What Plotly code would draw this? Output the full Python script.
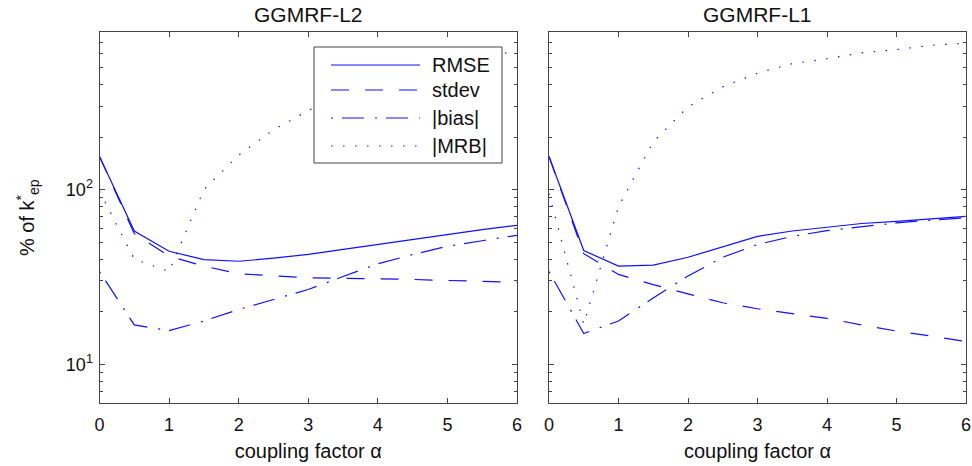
import math
import plotly.graph_objects as go

# coupling factor alpha
alpha = [0, 0.5, 1, 1.5, 2, 2.5, 3, 3.5, 4, 4.5, 5, 5.5, 6]

# GGMRF-L2 (left panel), % of k*_ep
l2_rmse = [155, 58, 44.4, 39.8, 38.9, 40.5, 42.6, 45.5, 48.5, 52, 55.3, 59, 62.5]
l2_stdev = [155, 56, 41.6, 36.5, 33, 32, 31.3, 31.1, 31.0, 30.6, 30.2, 29.8, 29.5]
l2_bias = [34, 16.8, 15.6, 17.7, 20.6, 23.6, 26.8, 31.8, 37.6, 42.5, 47.4, 51, 54.8]
l2_mrb = [98, 40, 34, 100, 158, 220, 284, 355, 420, 480, 530, 580, 620]

# GGMRF-L1 (right panel)
l1_rmse = [155, 44.8, 36.5, 37, 41, 47, 54, 58, 61, 64, 65.8, 68, 70.3]
l1_stdev = [155, 43, 32.7, 28.6, 25.3, 22.5, 20.8, 19.5, 18.3, 16.8, 15.5, 14.5, 13.5]
l1_bias = [34, 15, 17.7, 24, 32, 41, 48.5, 54, 58.3, 61.5, 64.5, 67, 69]
l1_mrb = [95, 17, 80, 188, 298, 388, 465, 527, 562, 608, 634, 672, 690]

names = ["RMSE", "stdev", "|bias|", "|MRB|"]
dashes = ["solid", "18px,16px", "2px,9px,22px,11px", "1.5px,10.5px"]
panel_titles = ["GGMRF-L2", "GGMRF-L1"]

W, H = 972, 466
BLUE = "#1010ff"
AXC = "#444444"
FONT = "Liberation Sans, Arial, sans-serif"


def fx(p):
    return p / W


def fy(p):
    return 1 - p / H


fig = go.Figure()
panels = [
    ("x", "y", [l2_rmse, l2_stdev, l2_bias, l2_mrb]),
    ("x2", "y2", [l1_rmse, l1_stdev, l1_bias, l1_mrb]),
]
for xa, ya, series in panels:
    for name, dash, vals in zip(names, dashes, series):
        fig.add_trace(go.Scatter(
            x=alpha, y=vals, name=name, mode="lines",
            line=dict(color=BLUE, width=1.2, dash=dash),
            xaxis=xa, yaxis=ya, showlegend=False,
        ))

minor_vals = [6, 7, 8, 9, 20, 30, 40, 50, 60, 70, 80, 90, 200, 300, 400, 500, 600, 700]
yrange = [math.log10(6), math.log10(800)]

xcommon = dict(
    range=[0, 6], tickvals=[0, 1, 2, 3, 4, 5, 6], ticks="inside", ticklen=5,
    tickcolor=AXC, showline=True, linecolor=AXC, linewidth=1, mirror="ticks",
    showgrid=False, zeroline=False, tickfont=dict(size=18, color="#111"),
    ticklabelstandoff=5,
    title=dict(text="coupling factor α", font=dict(size=20, color="#111"), standoff=10),
    automargin=False,
)
ycommon = dict(
    type="log", range=yrange, tickvals=[10, 100],
    ticktext=["10<sup>1</sup>", "10<sup>2</sup>"], ticks="inside", ticklen=5,
    tickcolor=AXC, showline=True, linecolor=AXC, linewidth=1, mirror="ticks",
    showgrid=False, zeroline=False, tickfont=dict(size=18, color="#111"),
    ticklabelstandoff=2,
    minor=dict(tickmode="array", tickvals=minor_vals, ticks="inside",
               ticklen=3, tickcolor=AXC, showgrid=False),
    automargin=False,
)

fig.update_layout(
    width=W, height=H,
    margin=dict(l=0, r=0, t=0, b=0),
    paper_bgcolor="white", plot_bgcolor="white",
    font=dict(family=FONT, color="#111"),
    showlegend=False,
    xaxis=dict(domain=[fx(99.5), fx(517)], anchor="y", **xcommon),
    yaxis=dict(domain=[fy(403), fy(32)], anchor="x", **ycommon),
    xaxis2=dict(domain=[fx(549), fx(966)], anchor="y2", **xcommon),
    yaxis2=dict(domain=[fy(403), fy(32)], anchor="x2", showticklabels=False, **ycommon),
)

annotations = []
for title, cx in zip(panel_titles, [(99.5 + 517) / 2, (549 + 966) / 2]):
    annotations.append(dict(
        text=title, x=fx(cx), y=fy(15), xref="paper", yref="paper",
        showarrow=False, font=dict(size=21, color="#111"),
        xanchor="center", yanchor="middle",
    ))
annotations.append(dict(
    text="% of k<sup>*</sup><sub>ep</sub>", x=fx(27), y=fy(218),
    xref="paper", yref="paper", showarrow=False, textangle=-90,
    font=dict(size=20, color="#111"), xanchor="center", yanchor="middle",
))

# legend drawn as a framed box inside the left panel
shapes = [dict(type="rect", xref="paper", yref="paper",
               x0=fx(314), x1=fx(502), y0=fy(163), y1=fy(47),
               line=dict(color=AXC, width=1), fillcolor="white", layer="above")]
rows = [65, 90, 118, 146]
for name, dash, ry in zip(names, dashes, rows):
    shapes.append(dict(type="line", xref="paper", yref="paper",
                       x0=fx(331), x1=fx(420), y0=fy(ry), y1=fy(ry),
                       line=dict(color=BLUE, width=1.2, dash=dash), layer="above"))
    annotations.append(dict(
        text=name, x=fx(430), y=fy(ry), xref="paper", yref="paper",
        showarrow=False, font=dict(size=20, color="#111"),
        xanchor="left", yanchor="middle",
    ))

fig.update_layout(annotations=annotations, shapes=shapes)
# drop the default page margin so the figure fills the window exactly
fig.write_html("out.html", config={"displayModeBar": False},
               post_script="document.body.style.margin='0';")
